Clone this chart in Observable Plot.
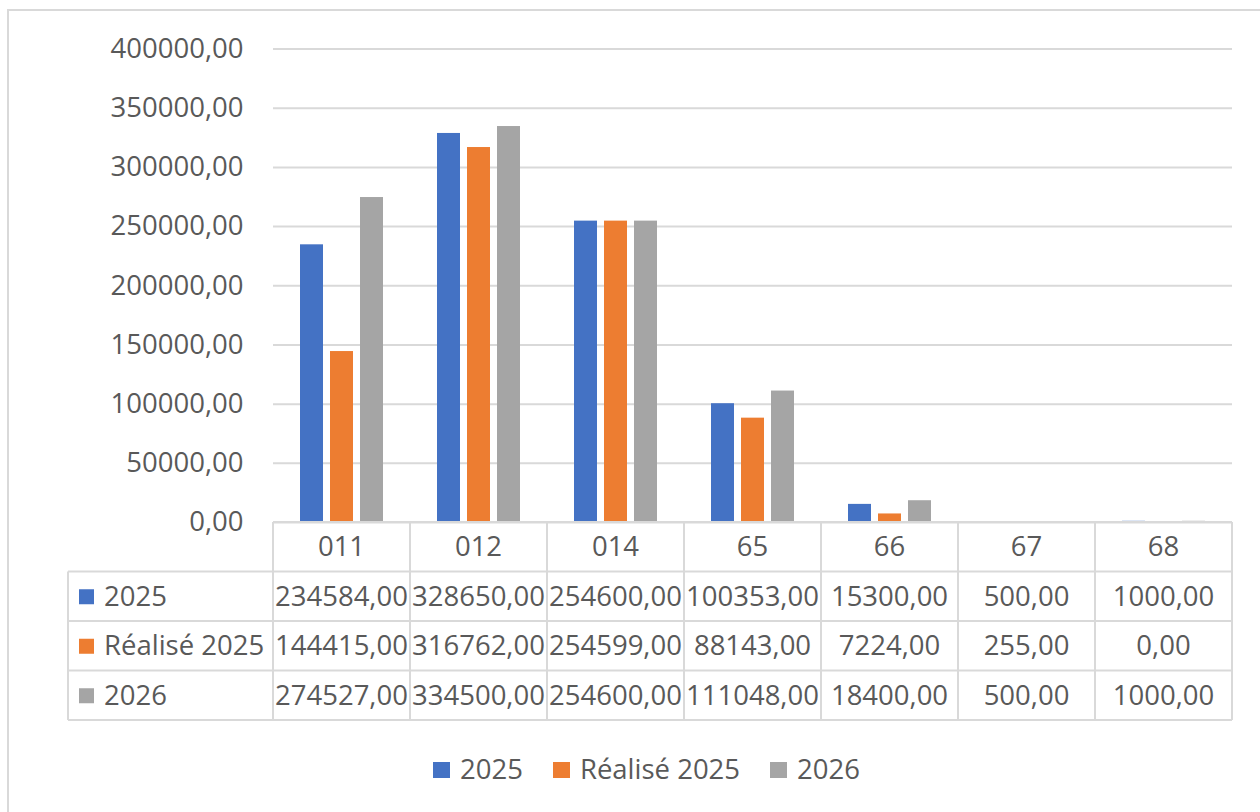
<!DOCTYPE html>
<html>
<head>
<meta charset="utf-8">
<script src="https://cdn.jsdelivr.net/npm/d3@7"></script>
<script src="https://cdn.jsdelivr.net/npm/@observablehq/plot@0.6"></script>
<style>
  html, body { margin: 0; padding: 0; background: #fff; width: 1260px; height: 812px; overflow: hidden; }
  #frame { position: absolute; left: 7px; top: 9px; width: 1300px; height: 900px; border: 2px solid #d9d9d9; box-sizing: border-box; }
  #chart { position: absolute; left: 0; top: 0; }
  #legend { position: absolute; left: 433px; top: 750px; display: flex; align-items: center;
            font-family: "Open Sans", sans-serif; font-size: 27.5px; color: #595959; }
  #legend .item { display: flex; align-items: center; margin-right: 30px; }
  #legend .sw { width: 17px; height: 16px; margin-right: 10px; margin-top: 3px; }
</style>
</head>
<body>
<div id="frame"></div>
<div id="chart"></div>
<div id="legend"></div>
<script>
// ---- data ----
const categories = ["011", "012", "014", "65", "66", "67", "68"];
const seriesNames = ["2025", "Réalisé 2025", "2026"];
const values2025 = [234584, 328650, 254600, 100353, 15300, 500, 1000];
const valuesRealise2025 = [144415, 316762, 254599, 88143, 7224, 255, 0];
const values2026 = [274527, 334500, 254600, 111048, 18400, 500, 1000];
const seriesColors = ["#4472C4", "#ED7D31", "#A5A5A5"];
const yTicks = [0, 50000, 100000, 150000, 200000, 250000, 300000, 350000, 400000];

const seriesValues = [values2025, valuesRealise2025, values2026];
const data = categories.flatMap((c, i) =>
  seriesNames.map((s, j) => ({cat: c, series: s, value: seriesValues[j][i]}))
);
const fmt = d => d3.format(".2f")(d).replace(".", ",");

// ---- layout constants ----
const W = 1260, H = 730;
const mTop = 48.5, mLeft = 273, mRight = 28, zeroY = 522;
const rowH = 49.5, tableLeft = 68;
const gridColor = "#d9d9d9", textColor = "#595959";
const font = "'Open Sans', sans-serif";

const plot = Plot.plot({
  width: W,
  height: H,
  marginTop: mTop,
  marginLeft: mLeft,
  marginRight: mRight,
  marginBottom: H - zeroY,
  style: {fontFamily: font, fontSize: "27.5px", color: textColor, background: "transparent", overflow: "visible"},
  fx: {domain: categories, padding: 0, axis: null},
  x: {domain: seriesNames, paddingInner: 0.236, paddingOuter: 0.864, axis: null},
  y: {domain: [0, 400000], axis: null},
  color: {domain: seriesNames, range: seriesColors},
  marks: [
    Plot.gridY(yTicks, {stroke: gridColor, strokeOpacity: 1, strokeWidth: 2}),
    Plot.axisY(yTicks, {tickSize: 0, tickPadding: 30, tickFormat: fmt, label: null, fill: textColor, fontSize: 27.5}),
    Plot.barY(data, {fx: "cat", x: "series", y: "value", fill: "series"})
  ]
});
document.getElementById("chart").appendChild(plot);

// ---- data table below the axis, positioned from the fx scale ----
const fxs = plot.scale("fx");
const bw = fxs.bandwidth;
const colLeft = c => fxs.apply(c);
const svg = d3.select(plot);
const g = svg.append("g").attr("font-family", font).attr("font-size", 27.5).attr("fill", textColor);
const right = colLeft(categories[categories.length - 1]) + bw;
const lines = g.append("g").attr("stroke", gridColor).attr("stroke-width", 2).attr("fill", "none");
const nRows = seriesNames.length;
const bottomY = zeroY + rowH * (nRows + 1);

// horizontal lines
lines.append("line").attr("x1", colLeft(categories[0])).attr("x2", right).attr("y1", zeroY).attr("y2", zeroY);
for (let r = 1; r <= nRows + 1; r++) {
  const y = zeroY + r * rowH;
  lines.append("line").attr("x1", tableLeft).attr("x2", right).attr("y1", y).attr("y2", y);
}
// vertical lines
lines.append("line").attr("x1", tableLeft).attr("x2", tableLeft).attr("y1", zeroY + rowH).attr("y2", bottomY);
categories.forEach(c => {
  const x = colLeft(c);
  lines.append("line").attr("x1", x).attr("x2", x).attr("y1", zeroY).attr("y2", bottomY);
});
lines.append("line").attr("x1", right).attr("x2", right).attr("y1", zeroY).attr("y2", bottomY);

// header
categories.forEach(c => {
  g.append("text").attr("x", colLeft(c) + bw / 2).attr("y", zeroY + rowH / 2)
    .attr("text-anchor", "middle").attr("dy", "0.35em").text(c);
});
// rows
seriesNames.forEach((s, j) => {
  const cy = zeroY + rowH * (j + 1) + rowH / 2;
  g.append("rect").attr("x", tableLeft + 11).attr("y", cy - 7).attr("width", 15).attr("height", 15).attr("fill", seriesColors[j]);
  g.append("text").attr("x", tableLeft + 36).attr("y", cy).attr("text-anchor", "start").attr("dy", "0.35em").text(s);
  categories.forEach((c, i) => {
    g.append("text").attr("x", colLeft(c) + bw / 2).attr("y", cy)
      .attr("text-anchor", "middle").attr("dy", "0.35em").text(fmt(seriesValues[j][i]));
  });
});

// ---- legend ----
const legend = d3.select("#legend");
seriesNames.forEach((s, j) => {
  const it = legend.append("div").attr("class", "item");
  it.append("div").attr("class", "sw").style("background", seriesColors[j]);
  it.append("span").text(s);
});
</script>
</body>
</html>
